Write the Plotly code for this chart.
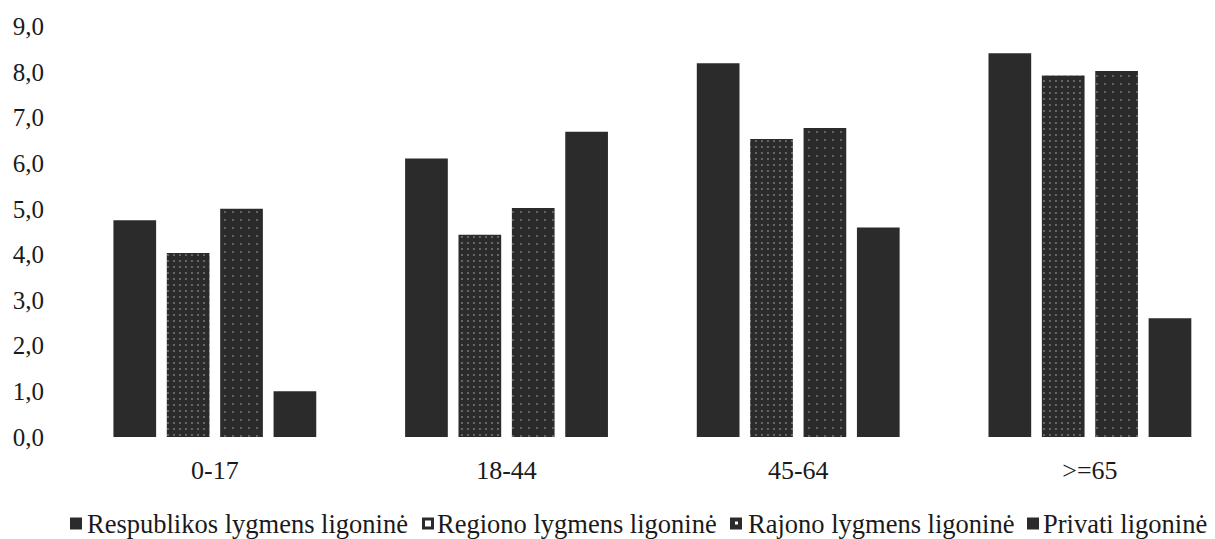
import plotly.graph_objects as go

categories = ["0-17", "18-44", "45-64", ">=65"]
series_names = ["Respublikos lygmens ligoninė", "Regiono lygmens ligoninė",
                "Rajono lygmens ligoninė", "Privati ligoninė"]
respublikos = [4.75, 6.10, 8.19, 8.41]
regiono = [4.03, 4.43, 6.53, 7.92]
rajono = [5.00, 5.02, 6.77, 8.02]
privati = [1.00, 6.69, 4.59, 2.60]

dark = "#2b2b2b"
FONT = "Liberation Serif"
OFF = 8  # page body margin offset
W, H = 1215 - OFF, 539 - OFF
ML, MR, MT, MB = 61, 2, 16, 102
PW, PH = W - ML - MR, H - MT - MB


def px_x(px):
    return (px - OFF - ML) / PW


def px_y(py):
    return (H - MB - (py - OFF)) / PH


fig = go.Figure()
fig.add_bar(x=categories, y=respublikos, name=series_names[0],
            marker=dict(color=dark, line=dict(width=0)))
fig.add_bar(x=categories, y=regiono, name=series_names[1],
            marker=dict(color=dark, line=dict(width=0),
                        pattern=dict(shape=".", fgcolor="#d0d0d0", bgcolor=dark,
                                     size=6, solidity=0.08, fillmode="overlay")))
fig.add_bar(x=categories, y=rajono, name=series_names[2],
            marker=dict(color=dark, line=dict(width=0),
                        pattern=dict(shape=".", fgcolor="#d0d0d0", bgcolor=dark,
                                     size=8, solidity=0.04, fillmode="overlay")))
fig.add_bar(x=categories, y=privati, name=series_names[3],
            marker=dict(color=dark, line=dict(width=0)))

# manual legend (compact symbols next to text, as in the reference)
legend_text_px = [87, 437, 748, 1043]
legend_sym_px = [70, 422, 730, 1027]
sym = 12
ycen = 523.5
shapes = []
annotations = []
for i, name in enumerate(series_names):
    x0 = legend_sym_px[i]
    shapes.append(dict(type="rect", xref="paper", yref="paper",
                       x0=px_x(x0), x1=px_x(x0 + sym),
                       y0=px_y(ycen + sym / 2), y1=px_y(ycen - sym / 2),
                       fillcolor=dark, line=dict(width=0)))
    if i == 1:
        shapes.append(dict(type="rect", xref="paper", yref="paper",
                           x0=px_x(x0 + 3), x1=px_x(x0 + 9),
                           y0=px_y(ycen + 3), y1=px_y(ycen - 3),
                           fillcolor="white", line=dict(width=0)))
    if i == 2:
        shapes.append(dict(type="rect", xref="paper", yref="paper",
                           x0=px_x(x0 + 5), x1=px_x(x0 + 8),
                           y0=px_y(ycen + 1), y1=px_y(ycen - 2),
                           fillcolor="white", line=dict(width=0)))
    annotations.append(dict(text=name, xref="paper", yref="paper",
                            x=px_x(legend_text_px[i] - 2), y=px_y(ycen),
                            xanchor="left", yanchor="middle", showarrow=False,
                            font=dict(family=FONT, size=26.5, color="#1a1a1a")))

fig.update_layout(
    width=W, height=H,
    margin=dict(l=ML, r=MR, t=MT, b=MB, autoexpand=False),
    paper_bgcolor="white", plot_bgcolor="white",
    barmode="group", bargap=0.268, bargroupgap=0.2,
    separators=", ",
    font=dict(family=FONT, size=25, color="#1a1a1a"),
    showlegend=False,
    shapes=shapes,
    annotations=annotations,
    xaxis=dict(range=[-0.5, 3.422], showline=False, showgrid=False, ticks="",
               automargin=False, ticklabelstandoff=15,
               tickfont=dict(family=FONT, size=26, color="#1a1a1a")),
    yaxis=dict(range=[0, 9.05], tickvals=[0, 1, 2, 3, 4, 5, 6, 7, 8, 9],
               tickformat=".1f", showgrid=False, zeroline=False, showline=False,
               ticks="", automargin=False, ticklabelstandoff=24,
               tickfont=dict(family=FONT, size=25, color="#1a1a1a")),
)

fig.write_html("out.html")
